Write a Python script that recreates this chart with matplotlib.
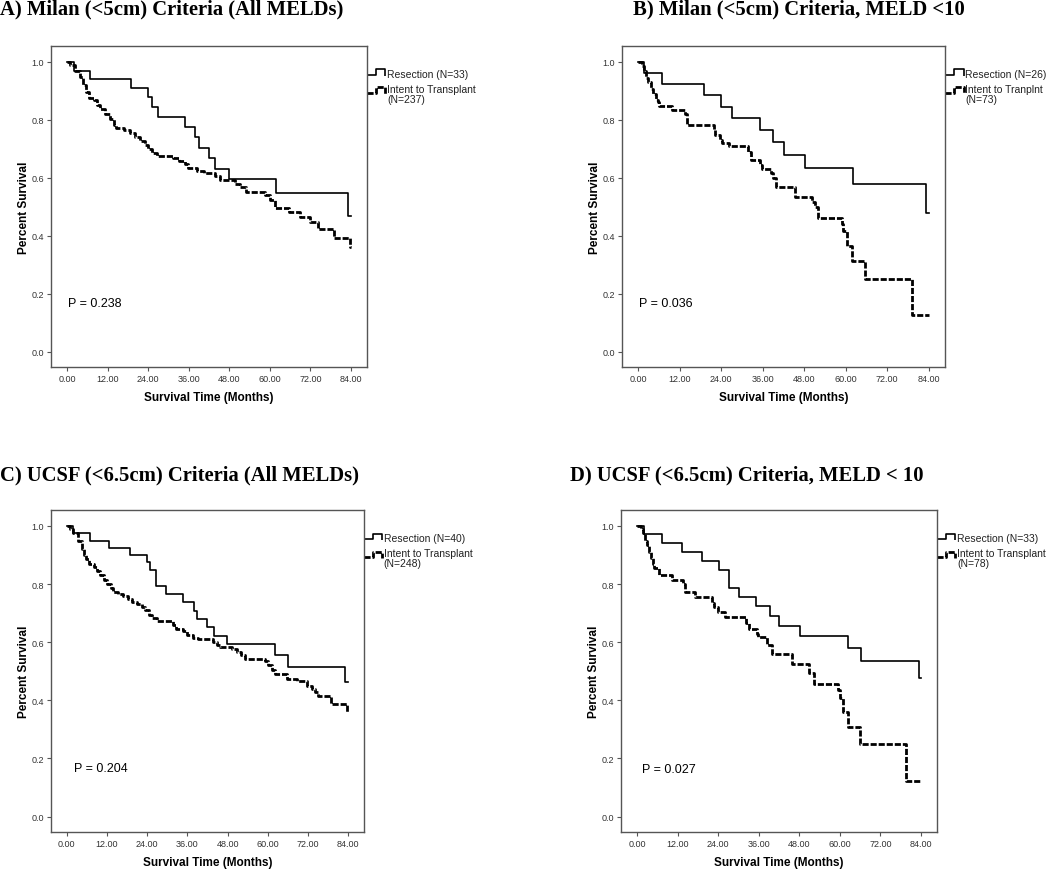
import numpy as np
import matplotlib
matplotlib.use("Agg")
import matplotlib.pyplot as plt

# ---- data (months, survival) ----
a_res_t = [0, 2, 6.9, 18.9, 24, 25.1, 26.8, 34.8, 37.9, 39.1, 42, 43.9, 47.9, 61.8, 83.2, 84]
a_res_s = [1.0, 0.97, 0.94, 0.91, 0.878, 0.845, 0.811, 0.777, 0.741, 0.703, 0.669, 0.632, 0.597, 0.546, 0.468, 0.468]
a_itt_t = [0, 1, 2.5, 4, 4.7, 5.7, 6.4, 7.9, 8.9, 9.8, 11.3, 12.8, 13.8, 14.5, 16.8, 18.7, 20.2, 21.7,
           23.1, 24.1, 25.1, 26.6, 31.5, 33, 34.9, 35.9, 38.4, 40.4, 43.8, 45.3, 49.7, 51.2, 52.9,
           58.6, 60.1, 61.5, 65.5, 68.9, 71.9, 74.3, 78.8, 83.7, 84]
a_itt_s = [1.0, 0.99, 0.97, 0.948, 0.92, 0.897, 0.876, 0.868, 0.85, 0.839, 0.822, 0.802, 0.782, 0.772,
           0.764, 0.753, 0.741, 0.726, 0.713, 0.70, 0.687, 0.676, 0.669, 0.657, 0.647, 0.634, 0.625,
           0.618, 0.606, 0.592, 0.58, 0.569, 0.552, 0.54, 0.523, 0.497, 0.483, 0.466, 0.447, 0.425,
           0.393, 0.362, 0.362]

b_res_t = [0, 1.6, 6.9, 19.1, 23.9, 27.1, 35.1, 39, 42, 48.1, 62.2, 83.3, 84]
b_res_s = [1.0, 0.962, 0.923, 0.885, 0.846, 0.808, 0.764, 0.722, 0.68, 0.634, 0.577, 0.48, 0.48]
b_itt_t = [0, 1.2, 1.6, 2.1, 2.8, 3.6, 4.2, 5.2, 5.8, 6.0, 9.8, 13.5, 14, 21.8, 22.2, 23.7, 24.2, 26.1,
           31.7, 32.6, 35.3, 35.8, 38.4, 39.1, 39.8, 45.4, 50.2, 51, 51.9, 59.0, 59.3, 60.3, 61.7,
           65.5, 79.2, 84]
b_itt_s = [1.0, 0.985, 0.97, 0.945, 0.93, 0.905, 0.89, 0.87, 0.86, 0.848, 0.835, 0.82, 0.784, 0.765,
           0.747, 0.73, 0.72, 0.709, 0.69, 0.661, 0.645, 0.63, 0.615, 0.598, 0.569, 0.534, 0.515,
           0.50, 0.463, 0.44, 0.416, 0.366, 0.314, 0.25, 0.126, 0.126]

c_res_t = [0, 1.8, 6.9, 12.7, 18.9, 23.9, 24.9, 26.6, 29.5, 34.8, 38.1, 39, 41.9, 43.9, 47.7, 62.1,
           66.1, 83, 84]
c_res_s = [1.0, 0.976, 0.95, 0.925, 0.90, 0.876, 0.848, 0.794, 0.767, 0.737, 0.708, 0.681, 0.652,
           0.623, 0.593, 0.556, 0.516, 0.464, 0.464]
c_itt_t = [0, 1, 2, 3.5, 4.5, 5.2, 5.8, 6.5, 8, 9, 9.9, 11.1, 12.1, 13.2, 13.9, 15.4, 16.9, 18.2,
           19.4, 20.9, 22.4, 23.4, 24.4, 25.3, 26.8, 31.8, 32.5, 34.8, 35.8, 37.8, 39.3, 43.7, 44.7,
           45.7, 49.2, 50.7, 51.9, 53.2, 59.1, 60.1, 61.1, 62.1, 65.6, 68.6, 71.6, 73.1, 74.1, 75,
           79, 83.7, 84]
c_itt_s = [1.0, 0.99, 0.975, 0.95, 0.92, 0.90, 0.885, 0.87, 0.86, 0.845, 0.83, 0.815, 0.802, 0.785,
           0.772, 0.765, 0.76, 0.75, 0.74, 0.73, 0.72, 0.71, 0.695, 0.685, 0.672, 0.66, 0.645, 0.64,
           0.626, 0.615, 0.61, 0.60, 0.59, 0.583, 0.575, 0.565, 0.555, 0.543, 0.535, 0.52, 0.505,
           0.491, 0.475, 0.465, 0.45, 0.44, 0.43, 0.415, 0.386, 0.36, 0.36]

d_res_t = [0, 2, 7.5, 13.3, 19.2, 24.2, 27.2, 30.1, 35.3, 39.2, 42.1, 48.3, 62.3, 66.3, 83.5, 84]
d_res_s = [1.0, 0.971, 0.94, 0.91, 0.879, 0.85, 0.787, 0.755, 0.723, 0.689, 0.657, 0.622, 0.581,
           0.537, 0.478, 0.478]
d_itt_t = [0, 1.3, 1.8, 2.3, 3, 3.5, 4.2, 4.7, 5.2, 6.4, 10.5, 13.6, 14.3, 17.3, 22.2, 22.9, 23.9,
           26.1, 32.3, 33, 35.4, 35.9, 38.4, 39.9, 45.8, 51, 52.2, 59.4, 60, 60.8, 62.3, 65.8, 79.6, 84]
d_itt_s = [1.0, 0.99, 0.975, 0.95, 0.935, 0.91, 0.89, 0.87, 0.855, 0.833, 0.815, 0.80, 0.772, 0.755,
           0.735, 0.721, 0.705, 0.686, 0.665, 0.645, 0.63, 0.618, 0.59, 0.56, 0.525, 0.493, 0.456,
           0.435, 0.409, 0.36, 0.309, 0.249, 0.124, 0.124]

titles = ["A) Milan (<5cm) Criteria (All MELDs)",
          "B) Milan (<5cm) Criteria, MELD <10",
          "C) UCSF (<6.5cm) Criteria (All MELDs)",
          "D) UCSF (<6.5cm) Criteria, MELD < 10"]
res_labels = ["Resection (N=33)", "Resection (N=26)", "Resection (N=40)", "Resection (N=33)"]
itt_labels = ["Intent to Transplant\n(N=237)", "Intent to Tranplnt\n(N=73)",
              "Intent to Transplant\n(N=248)", "Intent to Transplant\n(N=78)"]
p_values = ["P = 0.238", "P = 0.036", "P = 0.204", "P = 0.027"]
p_pos = [(0.2, 0.167), (0.2, 0.167), (2.2, 0.168), (1.5, 0.165)]

curves = [(a_res_t, a_res_s, a_itt_t, a_itt_s),
          (b_res_t, b_res_s, b_itt_t, b_itt_s),
          (c_res_t, c_res_s, c_itt_t, c_itt_s),
          (d_res_t, d_res_s, d_itt_t, d_itt_s)]

W, H = 1050, 870
# axes boxes in pixels: left, top, right, bottom
boxes = [(51, 47, 367, 368), (622, 47, 945, 368), (51, 511, 364, 833), (621, 511, 937, 833)]
title_xy = [(0, 9), (633, 9), (0, 475), (570, 475)]

DASH = (0, (2.2, 0.7))
SANS = "Liberation Sans"
SERIF = "Liberation Serif"

fig = plt.figure(figsize=(W / 100, H / 100), dpi=100)


def legend_glyph(ax, y, ls, lw):
    # small stepped line sample like the SPSS legend
    xs = [1.0, 1.028, 1.028, 1.058, 1.058]
    ys = [y, y, y + 0.017, y + 0.017, y - 0.002]
    ax.plot(xs, ys, color="black", ls=ls, lw=lw, transform=ax.transAxes, clip_on=False,
            solid_capstyle="butt")


for i in range(4):
    l, t, r, b = boxes[i]
    ax = fig.add_axes([l / W, 1 - b / H, (r - l) / W, (b - t) / H])
    rt, rs, it, is_ = curves[i]
    ax.step(it, is_, where="post", color="black", lw=2.0, ls=DASH)
    ax.step(rt, rs, where="post", color="black", lw=1.2)

    ax.set_xlim(-4.7, 88.7)
    ax.set_ylim(-0.053, 1.055)
    ax.set_xticks(np.arange(0, 85, 12))
    ax.set_xticklabels(["%.2f" % v for v in np.arange(0, 85, 12)])
    ax.set_yticks(np.arange(0, 1.01, 0.2))
    ax.set_yticklabels(["%.1f" % v for v in np.arange(0, 1.01, 0.2)])
    ax.tick_params(direction="out", length=3, width=0.8, color="#555555",
                   labelsize=6.5, labelcolor="#333333", pad=2)
    for lab in ax.get_xticklabels() + ax.get_yticklabels():
        lab.set_family(SANS)
    for sp in ax.spines.values():
        sp.set_color("#555555")
        sp.set_linewidth(1.0)

    ax.set_xlabel("Survival Time (Months)", fontsize=8.5, fontweight="bold",
                  family=SANS, labelpad=6)
    ax.set_ylabel("Percent Survival", fontsize=8.5, fontweight="bold",
                  family=SANS, labelpad=1)

    ax.text(p_pos[i][0], p_pos[i][1], p_values[i], fontsize=9, family=SANS,
            ha="left", va="center")

    legend_glyph(ax, 0.91, "-", 1.2)
    legend_glyph(ax, 0.854, DASH, 2.0)
    ax.text(1.063, 0.913, res_labels[i], transform=ax.transAxes, fontsize=7.5,
            family=SANS, va="center", ha="left", color="#222222")
    ax.text(1.063, 0.882, itt_labels[i], transform=ax.transAxes, fontsize=7.5,
            family=SANS, va="top", ha="left", color="#222222", linespacing=1.0)

    tx, ty = title_xy[i]
    fig.text(tx / W, 1 - ty / H, titles[i], fontsize=14.9, fontweight="bold",
             family=SERIF, ha="left", va="center")

fig.savefig("out.png", dpi=100, facecolor="white")
